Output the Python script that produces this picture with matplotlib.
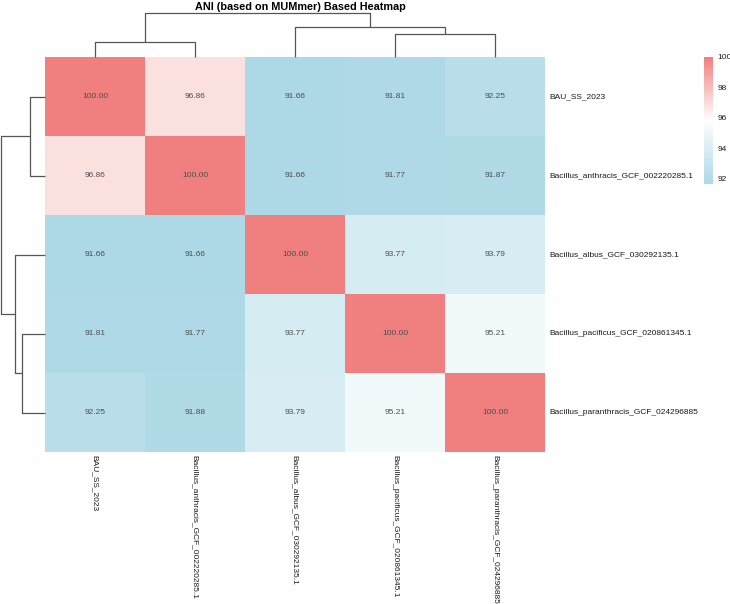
import numpy as np
import matplotlib
matplotlib.use("Agg")
import matplotlib.pyplot as plt
from matplotlib.colors import LinearSegmentedColormap

plt.rcParams['font.family'] = ['Liberation Sans', 'DejaVu Sans']

# Datos
etiquetas = ['BAU_SS_2023',
             'Bacillus_anthracis_GCF_002220285.1',
             'Bacillus_albus_GCF_030292135.1',
             'Bacillus_pacificus_GCF_020861345.1',
             'Bacillus_paranthracis_GCF_024296885']
fila_1 = [100.00, 96.86, 91.66, 91.81, 92.25]
fila_2 = [96.86, 100.00, 91.66, 91.77, 91.87]
fila_3 = [91.66, 91.66, 100.00, 93.77, 93.79]
fila_4 = [91.81, 91.77, 93.77, 100.00, 95.21]
fila_5 = [92.25, 91.88, 93.79, 95.21, 100.00]
# uniones del dendrograma (hijo a, hijo b, altura); hojas 0-4, nodos nuevos 5..8
uniones = [(0, 1, 4.46), (3, 4, 6.79), (2, 6, 8.93), (5, 7, 13.17)]
ticks_barra = [92, 94, 96, 98, 100]

datos = np.array([fila_1, fila_2, fila_3, fila_4, fila_5])
n = len(etiquetas)

W, H = 730, 604
fig = plt.figure(figsize=(W / 100, H / 100), dpi=100)

def caja(x0, y0, x1, y1):
    # coordenadas en pixeles (origen arriba a la izquierda) -> fraccion de figura
    return [x0 / W, 1 - y1 / H, (x1 - x0) / W, (y1 - y0) / H]

cmap = LinearSegmentedColormap.from_list('ani', ['lightblue', 'white', 'lightcoral'])
vmin, vmax = datos.min(), datos.max()

# Heatmap
ax = fig.add_axes(caja(45, 57, 545, 452))
ax.pcolormesh(np.arange(n + 1), np.arange(n + 1), datos, cmap=cmap, vmin=vmin, vmax=vmax)
ax.set_xlim(0, n)
ax.set_ylim(n, 0)
ax.axis('off')
for i in range(n):
    for j in range(n):
        ax.text(j + 0.5, i + 0.5, f'{datos[i, j]:.2f}', ha='center', va='center',
                fontsize=6, color='#4d4d4d')
    ax.text(n + 0.04, i + 0.5, etiquetas[i], ha='left', va='center',
            fontsize=6, color='#1a1a1a', clip_on=False)
    ax.text(i + 0.5, n + 0.035, etiquetas[i], ha='center', va='top', rotation=270,
            fontsize=6, color='#1a1a1a', clip_on=False)

def dibujar_dendro(axd, horizontal):
    pos = {k: k + 0.5 for k in range(n)}
    alt = {k: 0.0 for k in range(n)}
    for idx, (a, b, h) in enumerate(uniones):
        xs = [pos[a], pos[a], pos[b], pos[b]]
        hs = [alt[a], h, h, alt[b]]
        if horizontal:
            axd.plot(xs, hs, color='#555555', lw=0.9, clip_on=False, solid_capstyle='butt')
        else:
            axd.plot(hs, xs, color='#555555', lw=0.9, clip_on=False, solid_capstyle='butt')
        nuevo = n + idx
        pos[nuevo] = (pos[a] + pos[b]) / 2
        alt[nuevo] = h

hmax = uniones[-1][2]

# Dendrograma de columnas
axc = fig.add_axes(caja(45, 12.7, 545, 56.7))
dibujar_dendro(axc, True)
axc.set_xlim(0, n)
axc.set_ylim(0, hmax)
axc.axis('off')

# Dendrograma de filas
axr = fig.add_axes(caja(1, 57, 45, 452))
dibujar_dendro(axr, False)
axr.set_ylim(n, 0)
axr.set_xlim(hmax, 0)
axr.axis('off')

# Barra de color
axb = fig.add_axes(caja(704, 57, 713, 184))
grad = np.linspace(vmin, vmax, 200).reshape(-1, 1)
axb.imshow(grad, aspect='auto', cmap=cmap, vmin=vmin, vmax=vmax, origin='lower',
           extent=[0, 1, vmin, vmax])
axb.set_xticks([])
axb.yaxis.tick_right()
axb.set_yticks(ticks_barra)
axb.tick_params(axis='y', length=0, labelsize=6, pad=3, labelcolor='#1a1a1a')
for s in axb.spines.values():
    s.set_visible(False)

fig.text(300 / W, 1 - 7 / H, 'ANI (based on MUMmer) Based Heatmap', ha='center', va='center',
         fontsize=7.8, fontweight='bold')

fig.savefig('out.png', dpi=100)
